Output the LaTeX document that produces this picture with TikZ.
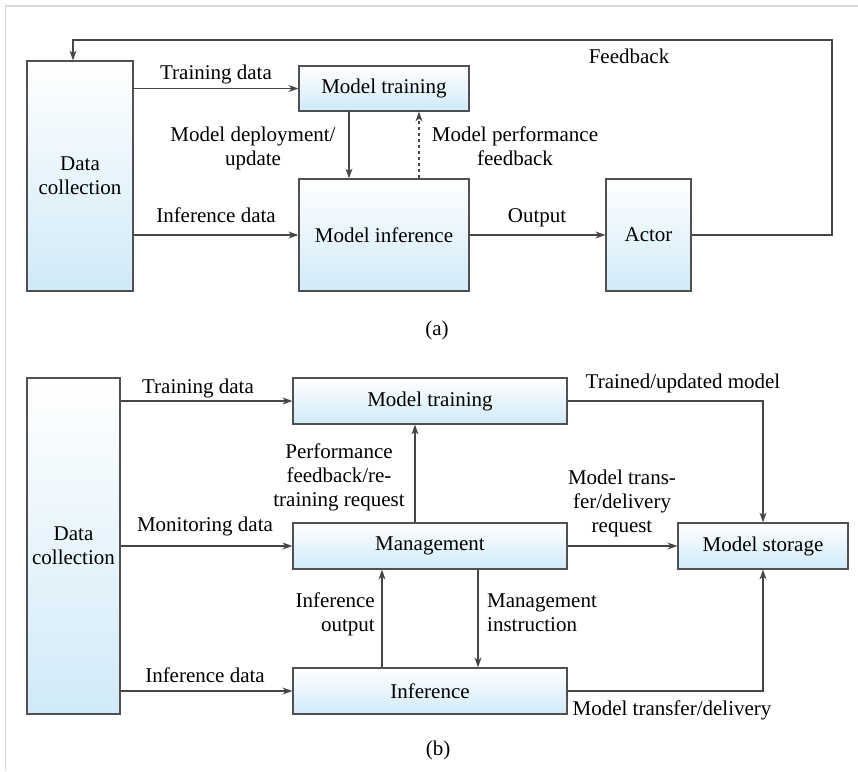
\documentclass[tikz,border=0pt]{standalone}
\usepackage{fontspec}
\setmainfont{Liberation Serif}
\usetikzlibrary{arrows.meta,calc}

\definecolor{boxline}{RGB}{80,80,80}
\definecolor{boxfill}{RGB}{208,234,248}
\definecolor{wire}{RGB}{70,70,70}
\definecolor{framegray}{RGB}{215,215,215}

\tikzset{
  blk/.style={draw=boxline, line width=1.2pt, top color=white, bottom color=boxfill,
    inner sep=0pt, align=center, font=\fontsize{21}{24}\selectfont},
  lbl/.style={inner sep=0pt, align=center, font=\fontsize{21}{24}\selectfont, anchor=base},
  flow/.style={draw=wire, line width=1.2pt, -{Stealth[length=10pt,width=7pt]}},
}

\begin{document}
\begin{tikzpicture}[x=1pt,y=-1pt]
\useasboundingbox (0,0) rectangle (858,771);
\fill[white] (0,0) rectangle (858,771);
% page frame (top and left edges)
\draw[framegray, line width=1.6pt] (5.5,771) -- (5.5,6) -- (858,6);

% ---------------- (a) ----------------
\node[blk, minimum width=106pt, minimum height=230pt] (dca) at (80,176) {Data\\collection};
\node[blk, minimum width=170pt, minimum height=45pt] (mta) at (384,88.5) {Model training};
\node[blk, minimum width=170pt, minimum height=112pt] (mia) at (384,235) {Model inference};
\node[blk, minimum width=85pt, minimum height=112pt] (act) at (648.5,235) {Actor};

\draw[flow] (dca.east |- mta.west) -- (mta.west);
\draw[flow] (dca.east |- mia.west) -- (mia.west);
\draw[flow] (mia.east) -- (act.west);
\draw[flow] ([xshift=-35pt]mta.south) -- ([xshift=-35pt]mia.north);
\draw[flow, dashed] ([xshift=35pt]mia.north) -- ([xshift=35pt]mta.south);

\coordinate (fbR) at (832,40);
\coordinate (fbL) at (73,40);
\draw[flow] (act.east) -| (fbR) -- (fbL) -- (fbL |- dca.north);

% labels: multi-line ones are placed by the baseline of their last line
\node[lbl] (la1) at (216,79) {Training data};
\node[lbl] (la2) at (216,222) {Inference data};
\node[lbl] (la3) at (253,165) {Model deployment/\\update};
\node[lbl] (la4) at (515,165) {Model performance\\feedback};
\node[lbl] (la5) at (537,222) {Output};
\node[lbl] (la6) at (629,63) {Feedback};
\node[lbl] (capa) at (437,335) {(a)};

% ---------------- (b) ----------------
\node[blk, minimum width=93pt, minimum height=336pt] (dcb) at (73.5,546) {Data\\collection};
\node[blk, minimum width=274pt, minimum height=46pt] (mtb) at (430,401) {Model training};
\node[blk, minimum width=274pt, minimum height=46pt] (mgb) at (430,546) {Management};
\node[blk, minimum width=274pt, minimum height=46pt] (inb) at (430,691) {Inference};
\node[blk, minimum width=170pt, minimum height=46pt] (msb) at (763,546) {Model storage};

\draw[flow] (dcb.east |- mtb.west) -- (mtb.west);
\draw[flow] (dcb.east |- mgb.west) -- (mgb.west);
\draw[flow] (dcb.east |- inb.west) -- (inb.west);
\draw[flow] ([xshift=-15pt]mgb.north) -- ([xshift=-15pt]mtb.south);
\draw[flow] ([xshift=-48pt]inb.north) -- ([xshift=-48pt]mgb.south);
\draw[flow] ([xshift=48pt]mgb.south) -- ([xshift=48pt]inb.north);
\draw[flow] (mgb.east) -- (msb.west);
\draw[flow] (mtb.east) -| (msb.north);
\draw[flow] (inb.east) -| (msb.south);

\node[lbl] (lb1) at (198,393) {Training data};
\node[lbl] (lb2) at (205,531) {Monitoring data};
\node[lbl] (lb3) at (205,682) {Inference data};
\node[lbl] (lb4) at (339,506) {Performance\\feedback/re-\\training request};
\node[lbl, anchor=base east, align=right] (lb5) at (375,631) {Inference\\output};
\node[lbl, anchor=base west, align=left] (lb6) at (487,631) {Management\\instruction};
\node[lbl] (lb7) at (622,532) {Model trans-\\fer/delivery\\request};
\node[lbl] (lb8) at (683,388) {Trained/updated model};
\node[lbl] (lb9) at (672,715) {Model transfer/delivery};
\node[lbl] (capb) at (438,755) {(b)};
\end{tikzpicture}
\end{document}
